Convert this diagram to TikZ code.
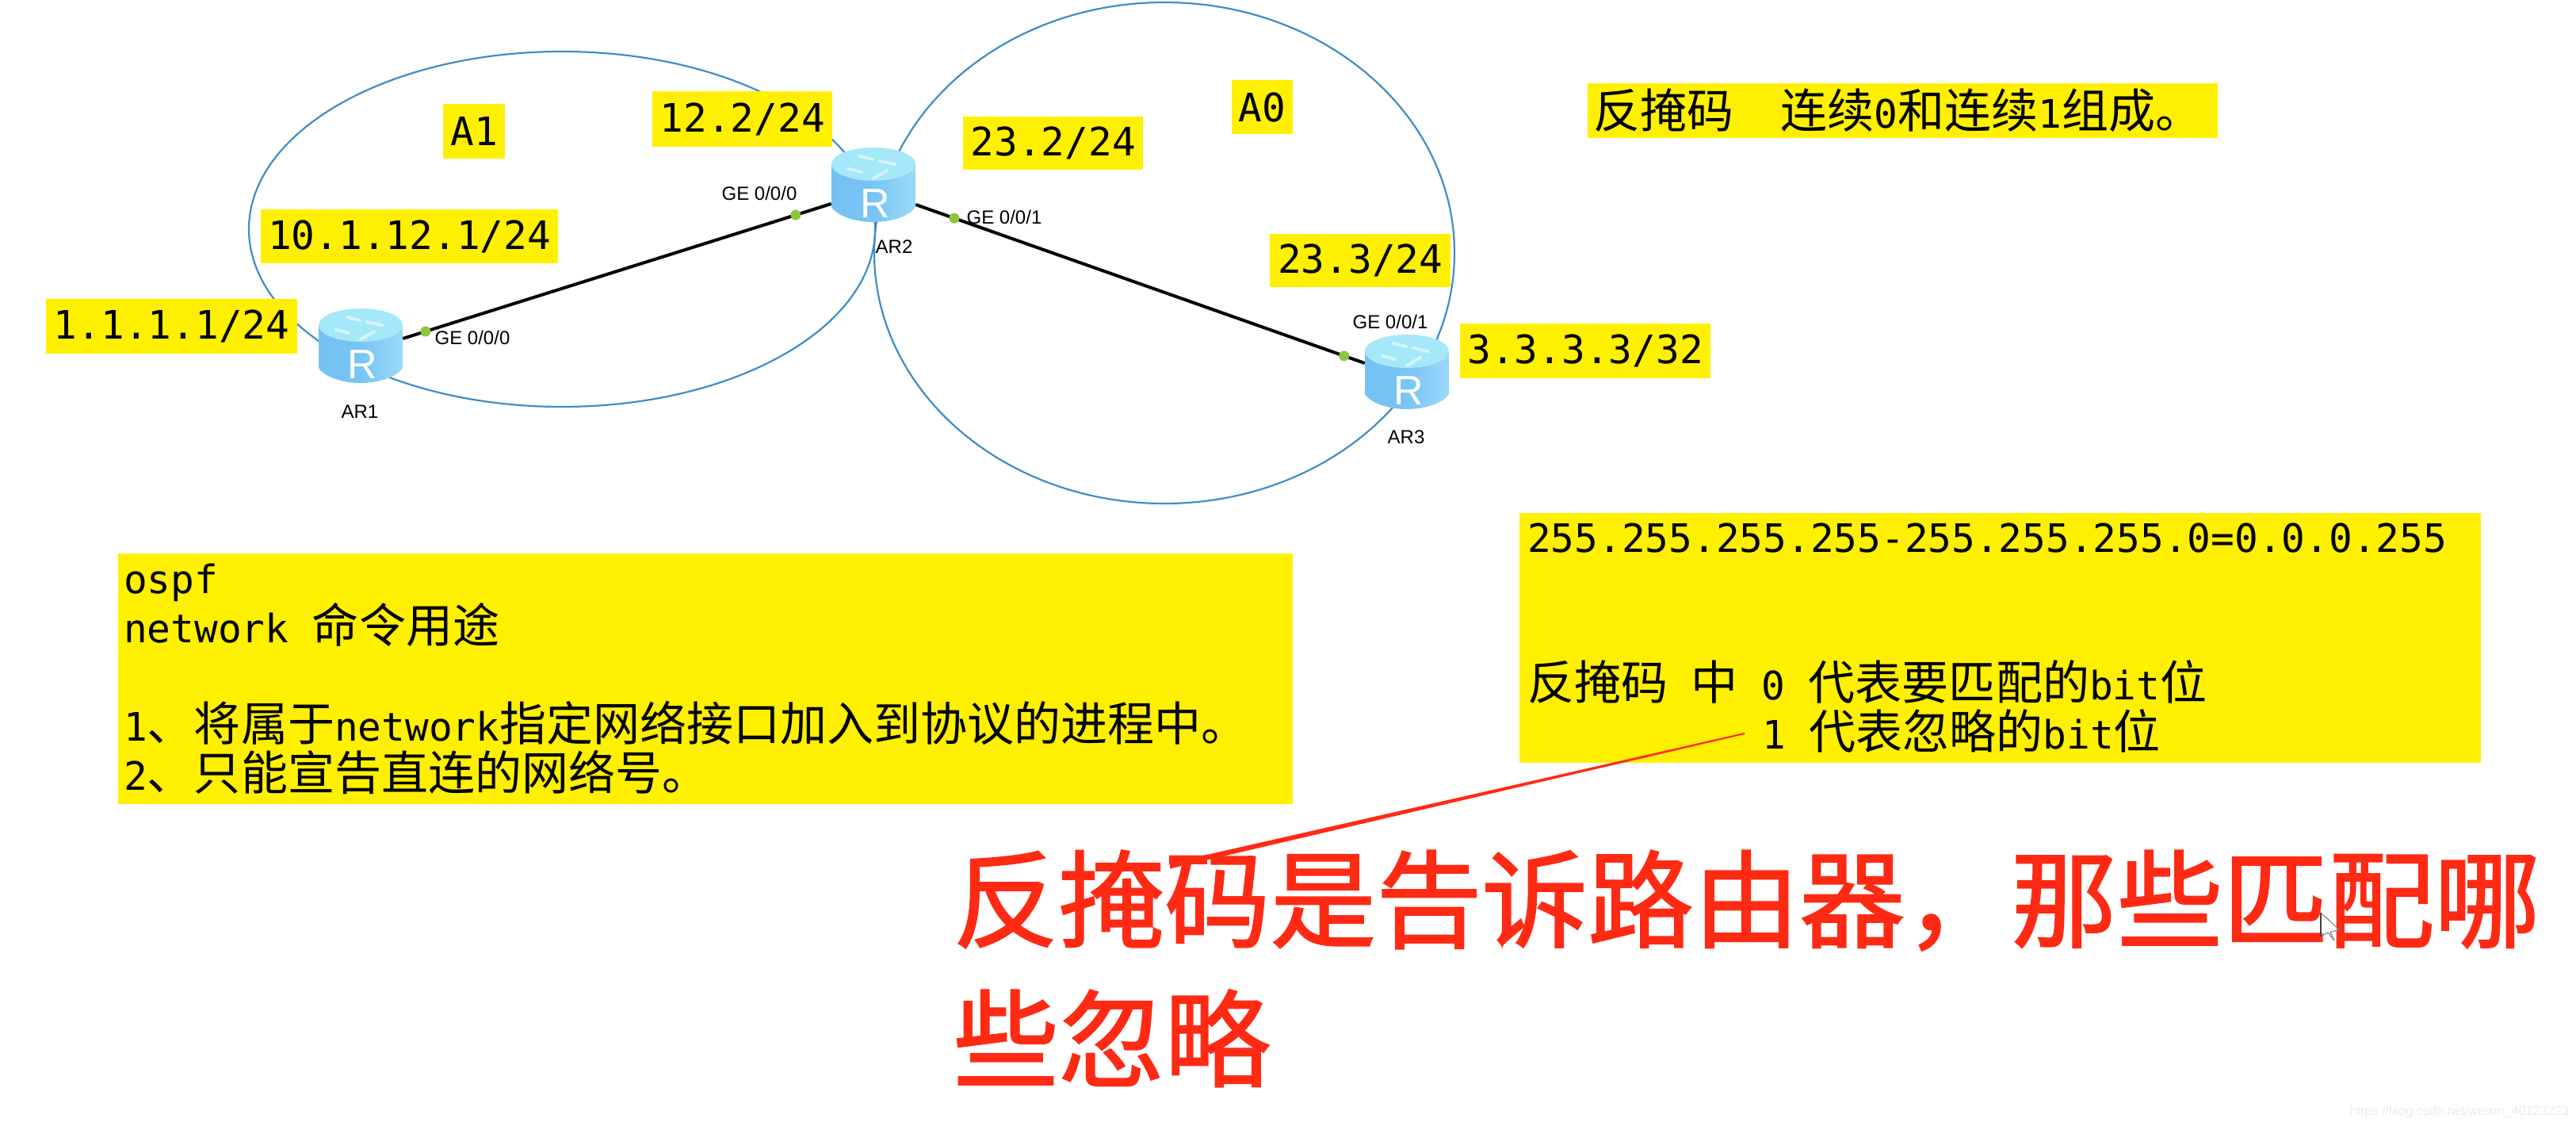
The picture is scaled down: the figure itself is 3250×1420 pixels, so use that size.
\documentclass[tikz,border=0pt]{standalone}
\usepackage{fontspec}
\setmainfont{Liberation Sans}
\setmonofont{DejaVu Sans Mono}
\newfontfamily\cjkfam[Scale=1.195]{Noto Sans CJK SC}
\newfontfamily\cjkred[FakeBold=1.5]{Noto Sans CJK SC}
\newcommand{\Cj}[1]{{\cjkfam #1}}
\newcommand{\Sp}[1][1]{\hspace*{#1\dimexpr 29.6pt\relax}}
\usetikzlibrary{shapes.geometric,calc}
\definecolor{hl}{HTML}{FFF000}
\definecolor{ring}{HTML}{3F8DC6}
\definecolor{topc}{HTML}{A4E8F9}
\definecolor{bodyc}{HTML}{74C2F3}
\definecolor{bodyd}{HTML}{9CD9FA}
\definecolor{portg}{HTML}{8CC63F}
\definecolor{redt}{HTML}{FF2A14}
\tikzset{
  x=1pt,y=-1pt,
  box/.style={fill=hl,inner sep=0pt,anchor=north west,font=\fontsize{49.4}{62}\selectfont\ttfamily,align=left},
  label/.style={inner sep=0pt,font=\fontsize{24}{28}\selectfont,text=black},
  rtr/.style={inner sep=0pt,minimum width=106pt,minimum height=93pt},
  area/.style={draw=ring,line width=2.2pt,ellipse,inner sep=0pt,fill=none},
  link/.style={line width=4pt,black},
  port/.style={circle,fill=portg,inner sep=0pt,minimum size=13pt},
}
\newcommand{\router}[1]{%
  \begin{scope}[shift={(#1)}]
    \shade[left color=bodyc,right color=bodyd,middle color=bodyc!90!bodyd]
      (-53,-26) -- (-53,28) .. controls (-45,40) and (-22,47) .. (0,47)
       .. controls (22,47) and (45,40) .. (53,28) -- (53,-26) -- cycle;
    \fill[topc] (0,-26) ellipse [x radius=53,y radius=21];
    \draw[white,line width=4pt,opacity=.55,line cap=round]
      (-17,-36) -- (-1,-32) (8,-30) -- (27,-26) (-31,-20) -- (-15,-16) (0,-8) -- (17,-18);
    \node[inner sep=0pt,text=white,font=\fontsize{52}{52}\selectfont] at (2,24) {R};
  \end{scope}}
\begin{document}
\begin{tikzpicture}
\useasboundingbox (0,0) rectangle (3250,1420);
% area rings
\node[area,minimum width=790pt,minimum height=448pt] (ringA) at (709,289) {};
\node[area,minimum width=732pt,minimum height=632pt] (ringB) at (1469,319) {};
% router anchors
\node[rtr] (ar1) at (455,436) {};
\node[rtr] (ar2) at (1102,233) {};
\node[rtr] (ar3) at (1775,469) {};
% links
\draw[link] ([yshift=9pt]ar1.east) -- ([yshift=-24pt]ar2.west)
  node[port,pos=.053] (p1) {}
  node[port,pos=.917] (p2) {};
\draw[link] ([yshift=-25pt]ar2.east) -- ([yshift=11pt]ar3.west)
  node[port,pos=.086] (p3) {}
  node[port,pos=.954] (p4) {};
\router{455,436}
\router{1102,233}
\router{1775,469}
% router / port labels
\node[label] (l1) at (454,519) {AR1};
\node[label] (l2) at (1128,311) {AR2};
\node[label] (l3) at (1774,551) {AR3};
\node[label] (g1) at (596,426) {GE 0/0/0};
\node[label] (g2) at (958,244) {GE 0/0/0};
\node[label] (g3) at (1267,274) {GE 0/0/1};
\node[label] (g4) at (1754,406) {GE 0/0/1};
% small yellow labels
\node[box,minimum width=78pt,minimum height=69pt,align=center] (tA1) at (559,131) {A1};
\node[box,minimum width=227pt,minimum height=70pt,align=center] (t122) at (823,115) {12.2/24};
\node[box,minimum width=375pt,minimum height=68pt,align=center] (t101) at (329,264) {10.1.12.1/24};
\node[box,minimum width=317pt,minimum height=69pt,align=center] (t111) at (58,377) {1.1.1.1/24};
\node[box,minimum width=227pt,minimum height=67pt,align=center] (t232) at (1215,147) {23.2/24};
\node[box,minimum width=77pt,minimum height=68pt,align=center] (tA0) at (1554,101) {A0};
\node[box,minimum width=228pt,minimum height=67pt,align=center] (t233) at (1602,295) {23.3/24};
\node[box,minimum width=316pt,minimum height=69pt,align=center] (t333) at (1842,408) {3.3.3.3/32};
% wide boxes
\node[box,minimum width=795pt,minimum height=69pt,text width=781pt] (tmask) at (2003,105)
  {\Cj{反掩码}\Sp[2]\Cj{连续}0\Cj{和连续}1\Cj{组成。}};
\node[box,minimum width=1482pt,minimum height=316pt,text width=1468pt] (tospf) at (149,698)
  {ospf\\network\Sp\Cj{命令用途}\\\mbox{}\\1\Cj{、将属于}network\Cj{指定网络接口加入到协议的进程中。}\\2\Cj{、只能宣告直连的网络号。}};
\node[box,minimum width=1213pt,minimum height=315pt,text width=1193pt] (tinv) at (1917,647)
  {255.255.255.255-255.255.255.0=0.0.0.255\\\mbox{}\\\mbox{}\\\Cj{反掩码}\Sp\Cj{中}\Sp 0\Sp\Cj{代表要匹配的}bit\Cj{位}\\\Sp[10]1\Sp\Cj{代表忽略的}bit\Cj{位}};
% red annotation
\coordinate (rs) at (2201,925);
\coordinate (re) at (1476,1092);
\fill[redt] ($(rs)+(0,-1)$) -- ($(re)+(0,-3.5)$) -- ($(re)+(0,3.5)$) -- ($(rs)+(0,1)$) -- cycle;
\node[inner sep=0pt,anchor=north west,text=redt,font=\fontsize{133.5}{176}\selectfont\cjkred,text width=2000pt,align=left] (tred) at (1202,1072)
  {反掩码是告诉路由器，那些匹配哪\\些忽略};
% mouse cursor
\draw[black!60,line width=1.5pt,densely dotted,fill=white,fill opacity=.25] (2928,1151) -- (2952,1173) -- (2940,1175) -- (2945,1186) -- (2937,1176) -- (2928,1181) -- cycle;
\draw[black!75,line width=2pt] (2928,1151) -- (2928,1181);
% watermark
\node[inner sep=0pt,anchor=east,text=black!8,font=\fontsize{16.2}{20}\selectfont] (wm) at (3241,1402) {https://blog.csdn.net/weixin\_40123223};
\end{tikzpicture}
\end{document}
